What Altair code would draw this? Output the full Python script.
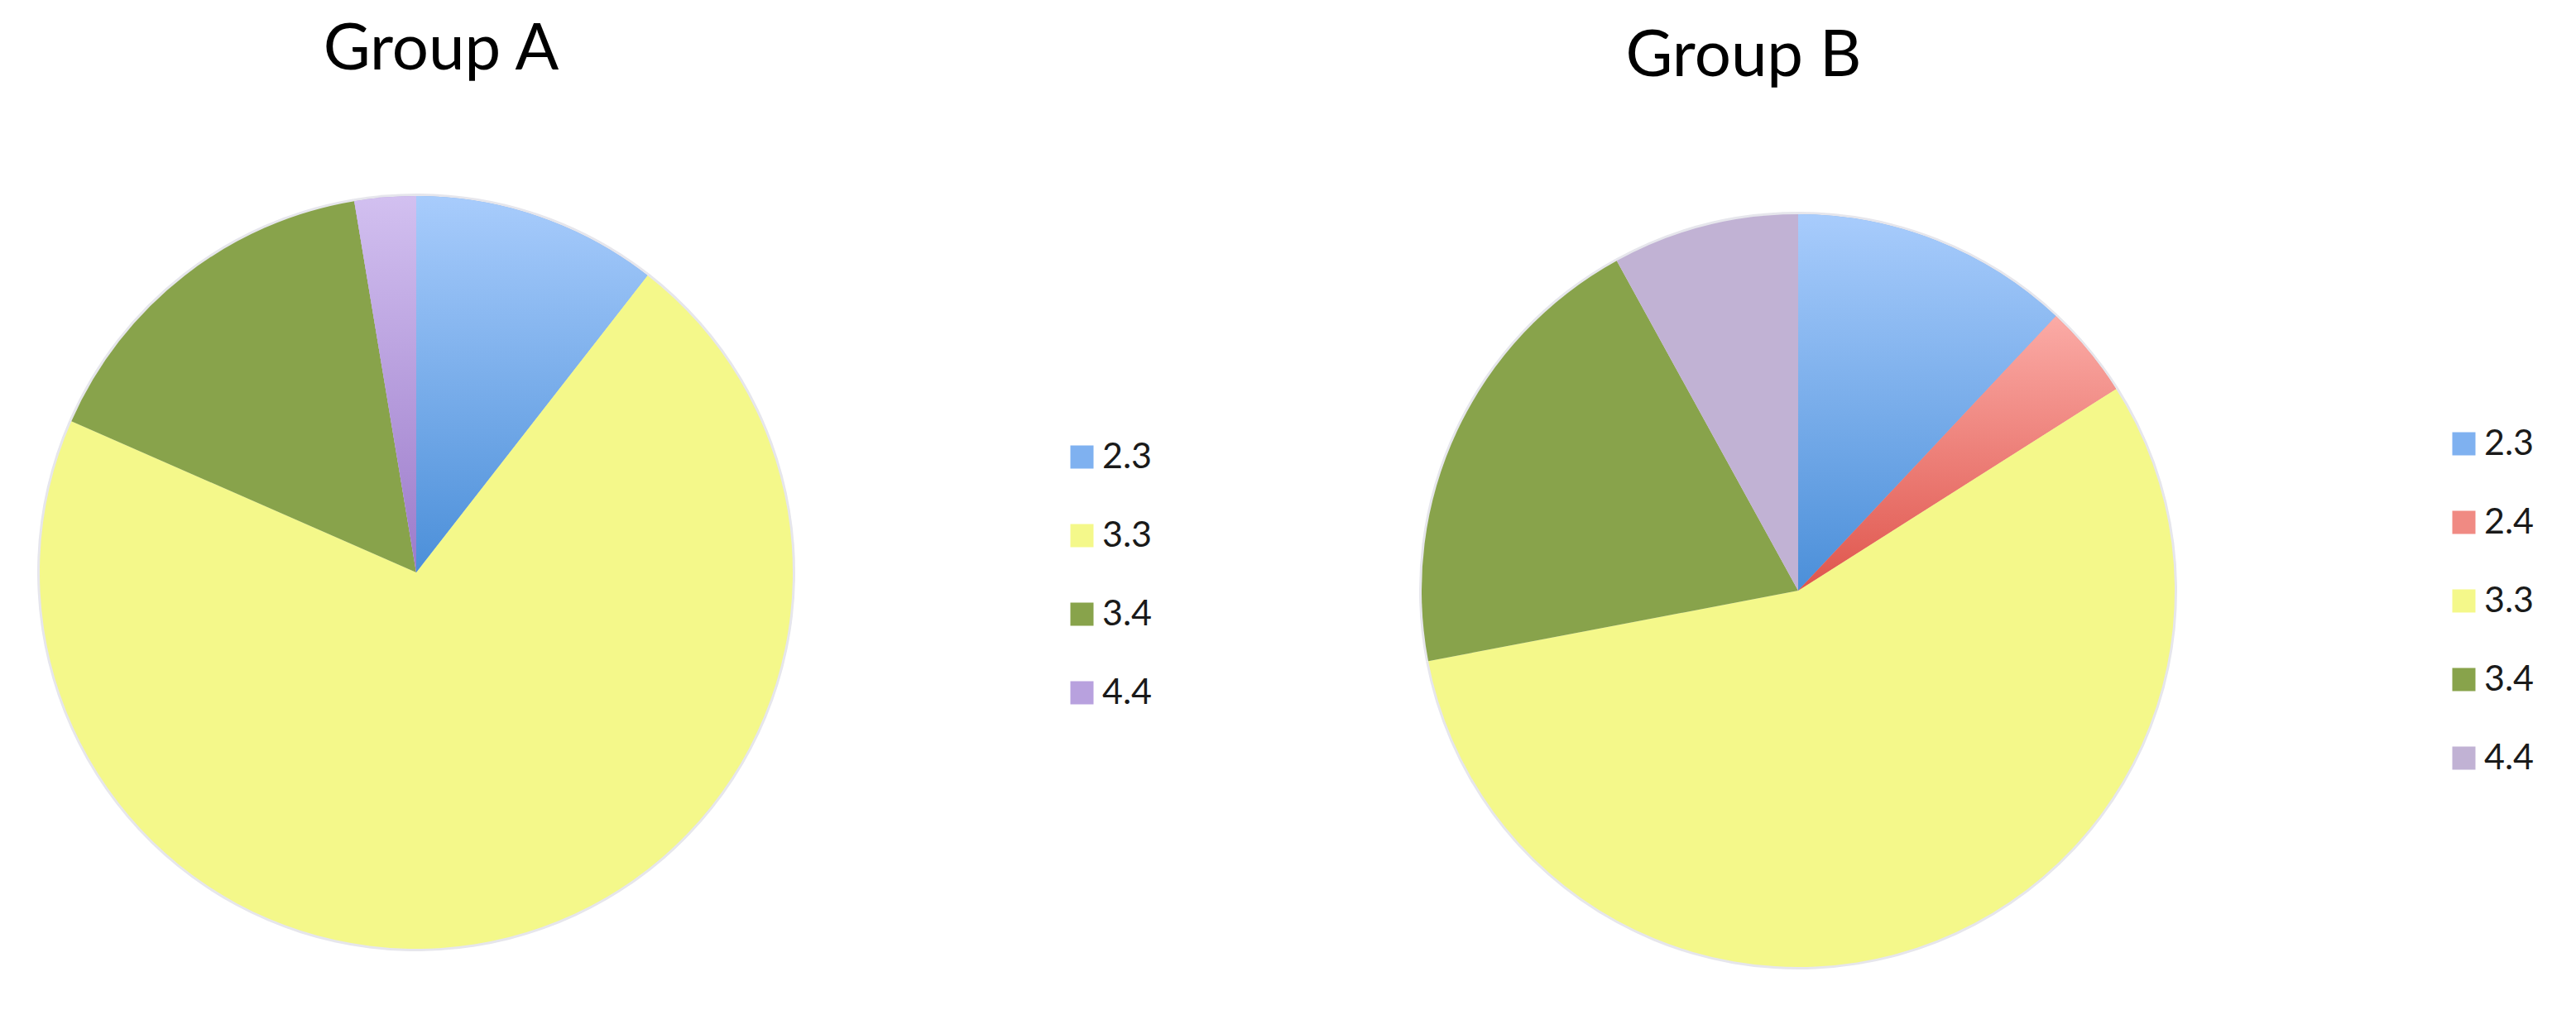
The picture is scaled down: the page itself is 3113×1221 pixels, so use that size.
import altair as alt
import pandas as pd

# ---- data ----
cats_a = ["2.3", "3.3", "3.4", "4.4"]
vals_a = [4, 27, 6, 1]
cats_b = ["2.3", "2.4", "3.3", "3.4", "4.4"]
vals_b = [6, 2, 28, 10, 4]

# ---- styling ----
solid_a = ["#7fb1f0", "#f4f88a", "#88a34b", "#b8a1de"]
solid_b = ["#7fb1f0", "#f08a83", "#f4f88a", "#88a34b", "#c1b2d4"]
grad_a = {"2.3": ("#a8ccfc", "#4b8fd9"), "4.4": ("#d2c0f0", "#9c7bca")}
grad_b = {"2.3": ("#a8ccfc", "#4b8fd9"), "2.4": ("#fbaba6", "#df554c")}

FONT = "Lato"
R = 455


def pie(title, cats, vals, solids, grads, height, legend_y, title_dx):
    df = pd.DataFrame({"cat": cats, "value": vals, "order": list(range(len(cats)))})
    base = (
        alt.Chart(df)
        .transform_window(cum="sum(value)", sort=[alt.SortField("order")])
        .transform_joinaggregate(total="sum(value)")
        .transform_calculate(
            start="(datum.cum - datum.value) / datum.total",
            end="datum.cum / datum.total",
        )
    )
    theta = alt.Theta("start:Q", scale=alt.Scale(domain=[0, 1]))
    theta2 = alt.Theta2("end:Q")
    # faint soft shadow ring around the pie
    halo = base.mark_arc(radius=R + 3, color="#e6e6ec").encode(theta=theta, theta2=theta2)
    solid = base.mark_arc(radius=R).encode(
        theta=theta,
        theta2=theta2,
        color=alt.Color(
            "cat:N",
            scale=alt.Scale(domain=cats, range=solids),
            sort=cats,
            legend=alt.Legend(
                title=None,
                orient="none",
                legendX=1278,
                legendY=legend_y,
                symbolType="square",
                symbolSize=784,
                symbolStrokeWidth=0,
                symbolOpacity=1,
                labelFont=FONT,
                labelFontSize=43,
                labelColor="#1a1a1a",
                labelOffset=3,
                rowPadding=51,
                padding=0,
            ),
        ),
    )
    layers = [halo, solid]
    for c, (top, bottom) in grads.items():
        layers.append(
            base.transform_filter(alt.datum.cat == c)
            .mark_arc(
                radius=R,
                fill=alt.LinearGradient(
                    gradient="linear",
                    stops=[
                        alt.GradientStop(color=top, offset=0),
                        alt.GradientStop(color=bottom, offset=1),
                    ],
                    x1=0, x2=0, y1=0, y2=1,
                ),
            )
            .encode(theta=theta, theta2=theta2)
        )
    return alt.layer(*layers).properties(
        width=990,
        height=height,
        title=alt.TitleParams(
            title,
            font=FONT,
            fontSize=78,
            fontWeight="normal",
            color="#000000",
            anchor="middle",
            baseline="alphabetic",
            offset=72,
            dx=title_dx,
        ),
    )


chart_a = pie("Group A", cats_a, vals_a, solid_a, grad_a, 900, 289, 30)
chart_b = pie("Group B", cats_b, vals_b, solid_b, grad_b, 944, 273, -66)

chart = (
    alt.hconcat(chart_a, chart_b, spacing=680, bounds="flush")
    .resolve_scale(color="independent", theta="independent")
    .resolve_legend(color="independent")
    .properties(padding={"left": 0, "top": 14, "right": 0, "bottom": 0}, background="white")
    .configure_view(stroke=None)
)

chart.save("out.html", embed_options={"renderer": "svg", "actions": False})
